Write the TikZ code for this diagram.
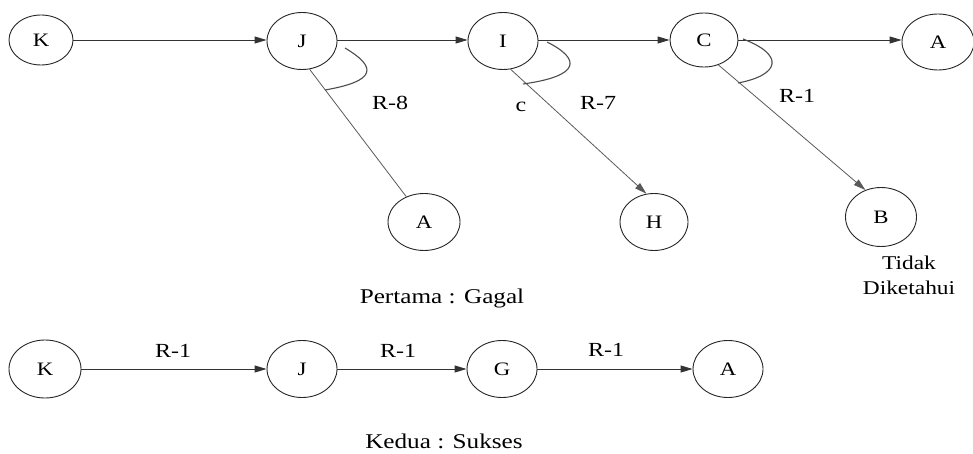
\documentclass[tikz,border=0pt]{standalone}
\usepackage{fontspec}
\setmainfont[FakeStretch=1.2]{Liberation Serif}
\usetikzlibrary{shapes.geometric,arrows.meta,calc}
\tikzset{
  nd/.style={ellipse, draw=black!85, line width=0.9pt, minimum width=70pt, minimum height=57pt, inner sep=0pt, font=\fontsize{19}{22}\selectfont},
  small/.style={minimum width=64pt, minimum height=50pt},
  arr/.style={draw=black!80, line width=0.9pt, -{Triangle[length=12pt,width=7pt]}},
  ln/.style={draw=black!65, line width=0.8pt},
  anglemark/.style={draw=black!70, line width=1.1pt},
  lbl/.style={font=\fontsize{20}{24}\selectfont, inner sep=0pt},
  captext/.style={font=\fontsize{21}{25}\selectfont, inner sep=0pt}
}
\begin{document}
\begin{tikzpicture}[x=1pt,y=-1pt]
\useasboundingbox (0,0) rectangle (973,454);
% top row
\node[nd,small] (K1) at (41,40) {K};
\node[nd] (J1) at (302,41) {J};
\node[nd] (I1) at (503,41) {I};
\node[nd,minimum width=68pt,minimum height=54pt] (C1) at (704,40) {C};
\node[nd,minimum width=72pt,minimum height=56pt] (A1) at (938,42) {A};
\node[nd,minimum width=72pt] (A2) at (424,222) {A};
\node[nd,minimum width=68pt] (H) at (654,222) {H};
\node[nd,minimum width=71pt,minimum height=59pt] (B) at (881,217) {B};

\draw[arr] (K1.east) -- (J1.west |- K1.east);
\draw[arr] (J1.east |- K1.east) -- (I1.west |- K1.east);
\draw[arr] (I1.east |- K1.east) -- (C1.west |- K1.east);
\draw[arr] (C1.east |- K1.east) -- (A1.west |- K1.east);

\draw[ln] (J1.285) -- (A2.125);
\draw[ln,-{Triangle[length=12pt,width=7pt]}] (I1.285) -- (H.105);
\draw[ln,-{Triangle[length=12pt,width=7pt]}] (C1.300) -- (B.120);

% angle marks
\draw[anglemark] ($(J1)+(43,7)$) .. controls ($(J1)+(75,26)$) and ($(J1)+(75,40)$) .. ($(J1)+(23,49)$);
\draw[anglemark] ($(I1)+(44,1)$) .. controls ($(I1)+(78,18)$) and ($(I1)+(78,35)$) .. ($(I1)+(20,43)$);
\draw[anglemark] ($(C1)+(39,-1)$) .. controls ($(C1)+(81,15)$) and ($(C1)+(76,35)$) .. ($(C1)+(34,43)$);

\node[lbl] (l8) at (390,103) {R-8};
\node[lbl] (l7) at (598,103) {R-7};
\node[lbl] (lc) at (521,107) {c};
\node[lbl] (l1) at (797,96) {R-1};
\node[lbl,font=\fontsize{19.5}{23}\selectfont, align=center] (td) at (909,275) {Tidak\\[2pt]Diketahui};
\node[captext] (p1) at (442,298) {Pertama : Gagal};

% bottom row
\node[nd,minimum width=72pt,minimum height=58pt] (K2) at (45,369) {K};
\node[nd] (J2) at (302,369) {J};
\node[nd] (G) at (502,369) {G};
\node[nd] (A3) at (728,369) {A};
\draw[arr] (K2) -- (J2);
\draw[arr] (J2) -- (G);
\draw[arr] (G) -- (A3);
\node[lbl] (b1) at (173,351) {R-1};
\node[lbl] (b2) at (398,351) {R-1};
\node[lbl] (b3) at (606,350) {R-1};
\node[captext] (p2) at (444,441) {Kedua : Sukses};
\end{tikzpicture}
\end{document}
